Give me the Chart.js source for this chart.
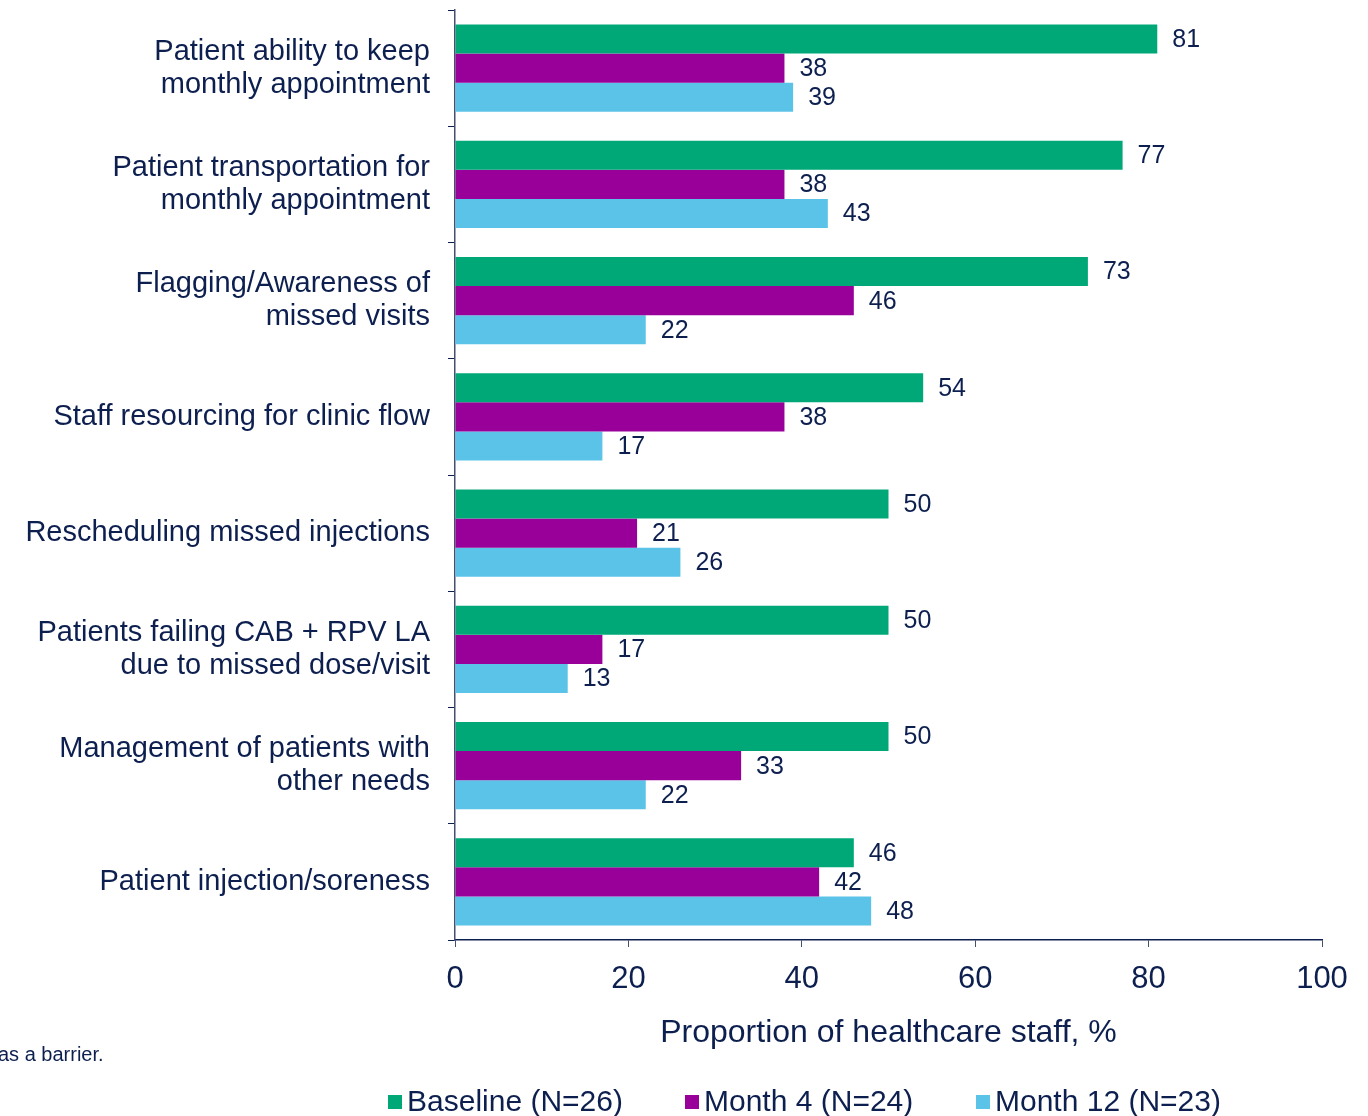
<!DOCTYPE html>
<html>
<head>
<meta charset="utf-8">
<script src="https://cdn.jsdelivr.net/npm/chart.js@4/dist/chart.umd.min.js"></script>
<style>
  body { margin: 0; background: #fff; }
  #wrap { position: relative; width: 1368px; height: 1116px; overflow: hidden; }
  #note { position: absolute; left: -2px; top: 1043px; font: 20px "Liberation Sans", Arial, sans-serif; color: #0d1f4f; }
  .leg { position: absolute; top: 1084px; font: 30px "Liberation Sans Narrow", "Arial Narrow", sans-serif; color: #0d1f4f; white-space: nowrap; }
  .leg span { display: inline-block; width: 14px; height: 14px; margin-right: 5px; vertical-align: 2px; }
</style>
</head>
<body>
<div id="wrap">
  <canvas id="myChart"></canvas>
  <div id="note">as a barrier.</div>
</div>
<script>
// categories (top to bottom)
let categories = [
  ['Patient ability to keep', 'monthly appointment'],
  ['Patient transportation for', 'monthly appointment'],
  ['Flagging/Awareness of', 'missed visits'],
  'Staff resourcing for clinic flow',
  'Rescheduling missed injections',
  ['Patients failing CAB + RPV LA', 'due to missed dose/visit'],
  ['Management of patients with', 'other needs'],
  'Patient injection/soreness'
];

let baseline = [81, 77, 73, 54, 50, 50, 50, 46];
let month4 = [38, 38, 46, 38, 21, 17, 33, 42];
let month12 = [39, 43, 22, 17, 26, 13, 22, 48];

let seriesNames = ['Baseline (N=26)', 'Month 4 (N=24)', 'Month 12 (N=23)'];
let seriesColors = ['#00a878', '#990099', '#5bc3e8'];
let xTicks = [0, 20, 40, 60, 80, 100];

const textColor = '#0d1f4f';
const axisColor = '#44506e';

// legend made by hand, it sits under the axis title
const legendLeft = [388, 685, 976];
seriesNames.forEach(function(name, i) {
  let d = document.createElement('div');
  d.className = 'leg';
  d.style.left = legendLeft[i] + 'px';
  d.innerHTML = '<span style="background:' + seriesColors[i] + '"></span>' + name;
  document.getElementById('wrap').appendChild(d);
});

// value labels at the end of each bar
const barLabels = {
  id: 'barLabels',
  afterDatasetsDraw(chart) {
    let ctx = chart.ctx;
    ctx.save();
    ctx.font = '25px "Liberation Sans", Arial, sans-serif';
    ctx.fillStyle = textColor;
    ctx.textBaseline = 'middle';
    ctx.textAlign = 'left';
    chart.data.datasets.forEach(function(ds, i) {
      chart.getDatasetMeta(i).data.forEach(function(bar, j) {
        ctx.fillText(ds.data[j], bar.x + 15, bar.y + 1);
      });
    });
    ctx.restore();
  }
};

const data = {
  labels: categories,
  datasets: [baseline, month4, month12].map(function(vals, i) {
    return {
      label: seriesNames[i],
      data: vals,
      backgroundColor: seriesColors[i],
      categoryPercentage: 0.75,
      barPercentage: 1.0
    };
  })
};

let chart = new Chart(document.getElementById('myChart').getContext('2d'), {
  type: 'bar',
  data: data,
  plugins: [barLabels],
  options: {
    indexAxis: 'y',
    responsive: true,
    maintainAspectRatio: false,
    animation: false,
    layout: { padding: { top: 10, right: 46, bottom: 64, left: 0 } },
    plugins: {
      legend: { display: false },
      tooltip: { enabled: false }
    },
    scales: {
      x: {
        min: 0,
        max: 100,
        afterBuildTicks: function(s) { s.ticks = xTicks.map(function(v) { return { value: v }; }); },
        afterFit: function(s) { s.height = 112; s.paddingLeft = 0; s.paddingRight = 0; },
        grid: { drawOnChartArea: false, tickLength: 7, color: axisColor, tickColor: axisColor },
        border: { color: '#0d1f4f', width: 1.5 },
        ticks: {
          color: textColor,
          padding: 14,
          maxRotation: 0,
          font: { family: '"Liberation Sans", Arial, sans-serif', size: 31 }
        },
        title: {
          display: true,
          text: 'Proportion of healthcare staff, %',
          color: textColor,
          padding: 0,
          font: { family: '"Liberation Sans", Arial, sans-serif', size: 32 }
        }
      },
      y: {
        afterFit: function(s) { s.width = 455; s.paddingTop = 0; s.paddingBottom = 0; },
        grid: { drawOnChartArea: false, offset: true, tickLength: 7, color: '#0d1f4f', tickColor: '#0d1f4f' },
        border: { color: axisColor, width: 1.5 },
        ticks: {
          color: textColor,
          padding: 18,
          font: { family: '"Liberation Sans", Arial, sans-serif', size: 29, lineHeight: 1.14 }
        }
      }
    }
  }
});
</script>
</body>
</html>
